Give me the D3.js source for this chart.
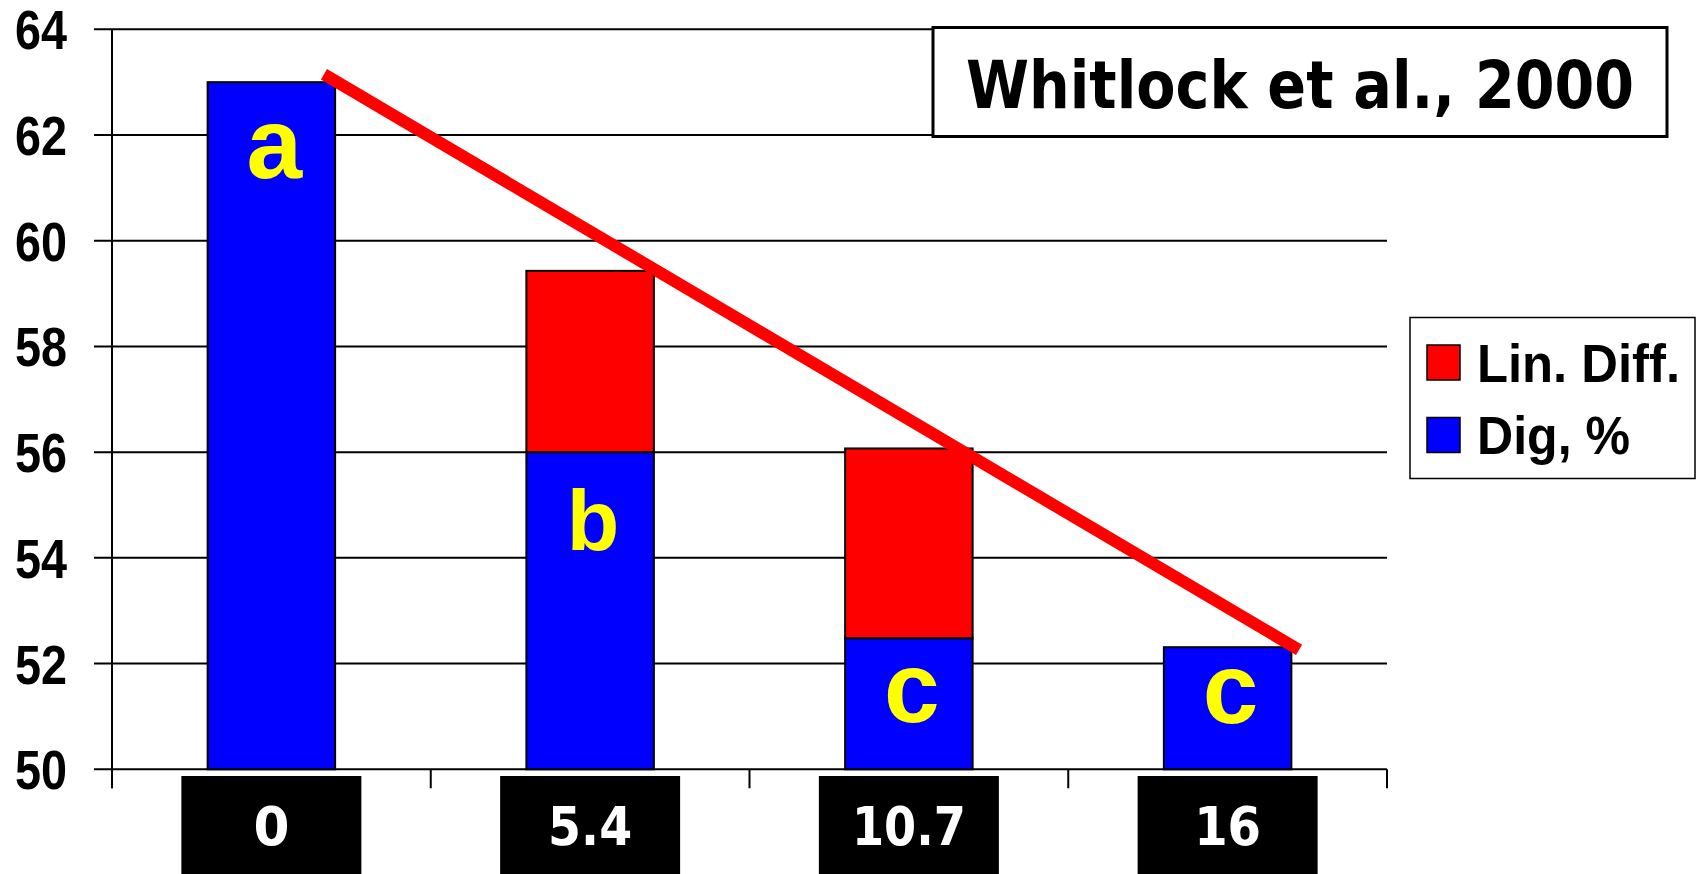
<!DOCTYPE html>
<html>
<head>
<meta charset="utf-8">
<script src="https://cdn.jsdelivr.net/npm/d3@7"></script>
<style>
  html, body { margin: 0; padding: 0; background: #fff; }
  svg { display: block; }
</style>
</head>
<body>
<svg id="chart" width="1700" height="874"></svg>
<script>
// ---------- data ----------
const categories = ["0", "5.4", "10.7", "16"];
const digValues = [63.0, 56.0, 52.48, 52.31];        // Dig, %
const linDiffValues = [0, 3.43, 3.59, 0];             // Lin. Diff. (stacked on top)
const groupLetters = ["a", "b", "c", "c"];
const letterBaselineValues = [61.19, 54.14, 50.9, 50.87];
const yTicks = [50, 52, 54, 56, 58, 60, 62, 64];
const trendIndex = [0.165, 3.224];                    // along the category axis
const trendValues = [63.15, 52.26];
const seriesNames = ["Lin. Diff.", "Dig, %"];
const titleText = "Whitlock et al., 2000";

// ---------- layout / style ----------
const colors = { dig: "#0000ff", lin: "#ff0000", letter: "#ffff00" };
const plot = { left: 112, right: 1387, top: 29.3, bottom: 769.3 };
const letterFont = [100, 86, 100, 100];
const catBoxWidth = 180;
const catTextWidth = [36, 84, 114, 67];

const svg = d3.select("#chart");

const x = d3.scaleBand().domain(categories).range([plot.left, plot.right])
  .paddingInner(0.6).paddingOuter(0.3);
const step = x.step();
const xi = d3.scaleLinear().domain([0, 3])
  .range([x(categories[0]) + x.bandwidth() / 2, x(categories[3]) + x.bandwidth() / 2]);
const y = d3.scaleLinear().domain([50, 64]).range([plot.bottom, plot.top]);

// gridlines
svg.append("g").selectAll("line").data(yTicks).join("line")
  .attr("x1", plot.left - 18).attr("x2", plot.right)
  .attr("y1", d => y(d)).attr("y2", d => y(d))
  .attr("stroke", "#000").attr("stroke-width", 2);

// y axis line
svg.append("line").attr("x1", plot.left).attr("x2", plot.left)
  .attr("y1", plot.top).attr("y2", plot.bottom + 19)
  .attr("stroke", "#000").attr("stroke-width", 2);

// x category boundary ticks
const bounds = d3.range(categories.length + 1).map(i => plot.left + i * step);
svg.append("g").selectAll("line").data(bounds).join("line")
  .attr("x1", d => d).attr("x2", d => d)
  .attr("y1", plot.bottom).attr("y2", plot.bottom + 19)
  .attr("stroke", "#000").attr("stroke-width", 2);

// y tick labels
svg.append("g").selectAll("text").data(yTicks).join("text")
  .attr("x", 67).attr("y", d => y(d) + 20)
  .attr("text-anchor", "end")
  .attr("font-family", "'Liberation Sans', Arial, sans-serif")
  .attr("font-weight", "bold").attr("font-size", 56)
  .attr("textLength", 52).attr("lengthAdjust", "spacingAndGlyphs")
  .text(d => d);

// bars: Dig
svg.append("g").selectAll("rect").data(categories).join("rect")
  .attr("x", d => x(d)).attr("width", x.bandwidth())
  .attr("y", (d, i) => y(digValues[i]))
  .attr("height", (d, i) => y(50) - y(digValues[i]))
  .attr("fill", colors.dig).attr("stroke", "#000").attr("stroke-width", 2);

// bars: Lin. Diff. stacked
svg.append("g").selectAll("rect").data(categories.filter((d, i) => linDiffValues[i] > 0)).join("rect")
  .attr("x", d => x(d)).attr("width", x.bandwidth())
  .attr("y", d => { const i = categories.indexOf(d); return y(digValues[i] + linDiffValues[i]); })
  .attr("height", d => { const i = categories.indexOf(d); return y(digValues[i]) - y(digValues[i] + linDiffValues[i]); })
  .attr("fill", colors.lin).attr("stroke", "#000").attr("stroke-width", 2);

// group letters
svg.append("g").selectAll("text").data(groupLetters).join("text")
  .attr("x", (d, i) => x(categories[i]) + x.bandwidth() / 2 + 3)
  .attr("y", (d, i) => y(letterBaselineValues[i]))
  .attr("text-anchor", "middle")
  .attr("font-family", "'Liberation Sans', Arial, sans-serif")
  .attr("font-weight", "bold")
  .attr("font-size", (d, i) => letterFont[i])
  .attr("fill", colors.letter)
  .text(d => d);

// trend line
const line = d3.line().x(d => xi(d[0])).y(d => y(d[1]));
svg.append("path")
  .attr("d", line(trendIndex.map((t, i) => [t, trendValues[i]])))
  .attr("stroke", colors.lin).attr("stroke-width", 12)
  .attr("stroke-linecap", "butt").attr("fill", "none");

// category label boxes
const cg = svg.append("g").selectAll("g").data(categories).join("g")
  .attr("transform", d => `translate(${x(d) + x.bandwidth() / 2},0)`);
cg.append("rect")
  .attr("x", -catBoxWidth / 2).attr("width", catBoxWidth)
  .attr("y", 776).attr("height", 110).attr("fill", "#000");
cg.append("text")
  .attr("x", 0).attr("y", 845)
  .attr("text-anchor", "middle")
  .attr("font-family", "'DejaVu Sans', Verdana, sans-serif")
  .attr("font-weight", "bold").attr("font-size", 54)
  .attr("fill", "#fff")
  .attr("textLength", (d, i) => catTextWidth[i]).attr("lengthAdjust", "spacingAndGlyphs")
  .text(d => d);

// title box
svg.append("rect").attr("x", 933).attr("y", 27.5).attr("width", 734).attr("height", 109)
  .attr("fill", "#fff").attr("stroke", "#000").attr("stroke-width", 3);
svg.append("text").attr("x", 1300).attr("y", 108)
  .attr("text-anchor", "middle")
  .attr("font-family", "'DejaVu Sans', Verdana, sans-serif")
  .attr("font-weight", "bold").attr("font-size", 66)
  .attr("textLength", 668).attr("lengthAdjust", "spacingAndGlyphs")
  .text(titleText);

// legend
const legend = svg.append("g");
legend.append("rect").attr("x", 1410).attr("y", 317.5).attr("width", 285).attr("height", 161)
  .attr("fill", "#fff").attr("stroke", "#000").attr("stroke-width", 1.5);
const legColors = [colors.lin, colors.dig];
const legBase = [381.5, 454];
const legWidths = [203, 153];
const li = legend.selectAll("g.item").data(seriesNames).join("g").attr("class", "item");
li.append("rect")
  .attr("x", 1427).attr("y", (d, i) => legBase[i] - 36.5)
  .attr("width", 33).attr("height", 35)
  .attr("fill", (d, i) => legColors[i]).attr("stroke", "#000").attr("stroke-width", 1.5);
li.append("text")
  .attr("x", 1477).attr("y", (d, i) => legBase[i])
  .attr("font-family", "'Liberation Sans', Arial, sans-serif")
  .attr("font-weight", "bold").attr("font-size", 53)
  .attr("textLength", (d, i) => legWidths[i]).attr("lengthAdjust", "spacingAndGlyphs")
  .text(d => d);
</script>
</body>
</html>
